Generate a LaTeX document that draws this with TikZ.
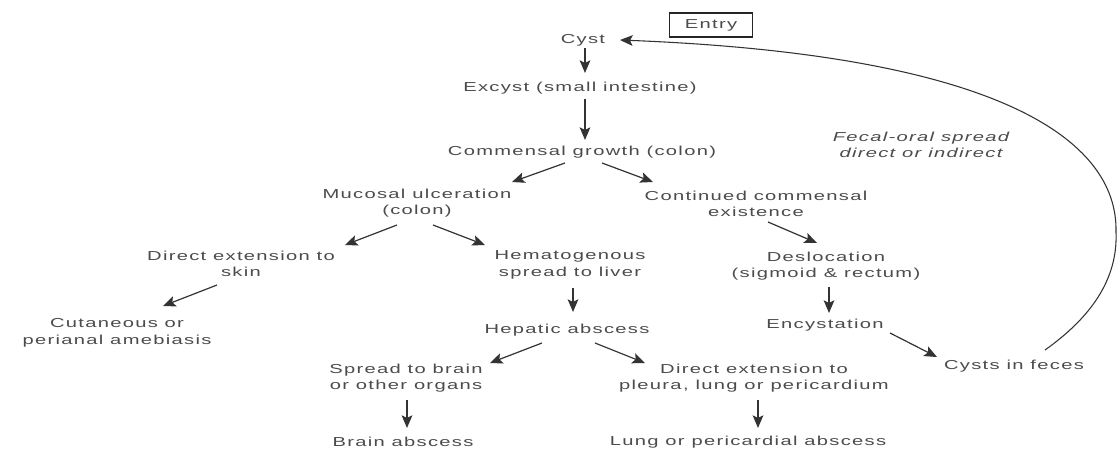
\documentclass[tikz,border=0pt]{standalone}
\usepackage{fontspec}
\setmainfont{Liberation Sans}[FakeStretch=1.55, LetterSpace=10]
\usetikzlibrary{arrows.meta}
\begin{document}
\begin{tikzpicture}[x=0.75pt, y=-0.75pt,
  lbl/.style={align=center, inner sep=1pt, text=black!70,
    font=\fontsize{9.75}{12.4}\selectfont},
  arr/.style={draw=black!80, line width=0.9pt,
    -{Stealth[length=9.5pt, width=8pt, inset=2pt]}},
  entrybox/.style={draw=black!85, line width=1pt, minimum width=62pt,
    minimum height=18pt, inner sep=1pt, text=black!70,
    font=\fontsize{9.75}{12}\selectfont}]
\useasboundingbox[fill=white] (0,0) rectangle (1118,450);

\node[entrybox] (entry) at (711,25) {Entry};
\node[lbl] (cyst)   at (583,40)  {Cyst};
\node[lbl] (excyst) at (580,88)  {Excyst (small intestine)};
\node[lbl] (comm)   at (582,152) {Commensal growth (colon)};
\node[lbl] (muc)    at (417,203) {Mucosal ulceration\\(colon)};
\node[lbl] (cont)   at (756,204) {Continued commensal\\existence};
\node[lbl] (skin)   at (241,264) {Direct extension to\\skin};
\node[lbl] (cut)    at (117,333) {Cutaneous or\\perianal amebiasis};
\node[lbl] (hema)   at (570,265) {Hematogenous\\spread to liver};
\node[lbl] (hep)    at (567,330) {Hepatic abscess};
\node[lbl] (spr)    at (406,378) {Spread to brain\\or other organs};
\node[lbl] (brain)  at (403,442) {Brain abscess};
\node[lbl] (pleu)   at (754,378) {Direct extension to\\pleura, lung or pericardium};
\node[lbl] (lung)   at (748,442) {Lung or pericardial abscess};
\node[lbl] (desl)   at (826,266) {Deslocation\\(sigmoid \& rectum)};
\node[lbl] (ency)   at (825,325) {Encystation};
\node[lbl] (cysts)  at (1014,366) {Cysts in feces};
\node[lbl, font=\fontsize{9.75}{12.4}\selectfont\itshape] (fecal) at (921,145) {Fecal-oral spread\\direct or indirect};

\draw[arr] ([shift={(2,8)}]cyst.center) -- ([shift={(5,-15)}]excyst.center);
\draw[arr] ([shift={(5,11)}]excyst.center) -- ([shift={(3,-12)}]comm.center);
\draw[arr] ([shift={(-17,11)}]comm.center) -- ([shift={(95,-21)}]muc.center);
\draw[arr] ([shift={(20,11)}]comm.center) -- ([shift={(-103,-22)}]cont.center);
\draw[arr] ([shift={(-20,22)}]muc.center) -- ([shift={(104,-19)}]skin.center);
\draw[arr] ([shift={(16,22)}]muc.center) -- ([shift={(-85,-20)}]hema.center);
\draw[arr] ([shift={(-24,21)}]skin.center) -- ([shift={(46,-27)}]cut.center);
\draw[arr] ([shift={(3,23)}]hema.center) -- ([shift={(6,-18)}]hep.center);
\draw[arr] ([shift={(-25,13)}]hep.center) -- ([shift={(84,-15)}]spr.center);
\draw[arr] ([shift={(28,13)}]hep.center) -- ([shift={(-109,-15)}]pleu.center);
\draw[arr] ([shift={(1,22)}]spr.center) -- ([shift={(4,-14)}]brain.center);
\draw[arr] ([shift={(4,22)}]pleu.center) -- ([shift={(10,-14)}]lung.center);
\draw[arr] ([shift={(12,18)}]cont.center) -- ([shift={(-9,-23)}]desl.center);
\draw[arr] ([shift={(3,21)}]desl.center) -- ([shift={(4,-12)}]ency.center);
\draw[arr] ([shift={(65,8)}]ency.center) -- ([shift={(-77,-9)}]cysts.center);

\coordinate (loopstart) at ([shift={(31,-16)}]cysts.center);
\coordinate (loopend) at ([shift={(37,0)}]cyst.center);
\draw[arr, line width=0.8pt] (loopstart) .. controls (1090,318) and (1118,280) .. (1116,232)
  .. controls (1118,140) and (1000,55) .. (loopend);
\end{tikzpicture}
\end{document}
